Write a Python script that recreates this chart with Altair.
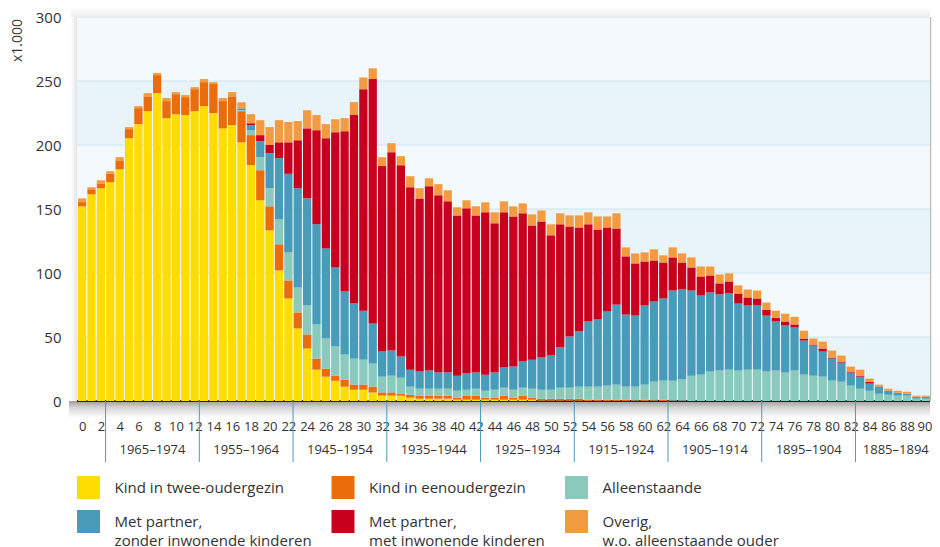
import altair as alt
import pandas as pd

# ---------------- data (values in thousands) ----------------
ages = list(range(91))

categories = [
    "Kind in twee-oudergezin",
    "Kind in eenoudergezin",
    "Alleenstaande",
    "Met partner, zonder inwonende kinderen",
    "Met partner, met inwonende kinderen",
    "Overig, w.o. alleenstaande ouder",
]
colors = ["#FFDD00", "#EA6C0B", "#89CABC", "#489CBA", "#C8001E", "#F39B41"]

kind_twee = [
    152, 161.5, 166.2, 171, 181, 205.3, 216.3, 226.4, 240.5, 221,
    224, 223.4, 226.4, 230.4, 224.9, 213, 215.5, 202.1, 184.2, 156.8,
    133.3, 102, 80.1, 56.7, 41, 24.5, 19, 15.9, 11.2, 8.8,
    8.8, 6.7, 4.2, 4.2, 4.2, 2.6, 1.8, 1.8, 1.8, 1.8,
    1, 1, 1, 1, 1, 1, 1, 1, 1, 0.4,
    0.3, 0.3, 0.2, 0.2, 0, 0, 0, 0, 0, 0,
    0, 0, 0, 0, 0, 0, 0, 0, 0, 0,
    0, 0, 0, 0, 0, 0, 0, 0, 0, 0,
    0, 0, 0, 0, 0, 0, 0, 0, 0, 0,
    0,
]
kind_eenouder = [
    3.4, 3.9, 3.8, 6.5, 7, 7.1, 12.5, 11.6, 14.1, 13.3,
    15.7, 14, 17.2, 18.7, 22.7, 21.3, 22.5, 24.3, 23.5, 23.5,
    18.8, 20.4, 14.1, 12.5, 11, 8.6, 6.3, 3.9, 5.5, 4,
    4, 4.5, 2.5, 2.5, 1.5, 2.3, 2.4, 2.4, 2.4, 2.4,
    1.6, 3.2, 3.2, 1.6, 1.6, 3.2, 1.6, 3.2, 1.6, 1.4,
    1.5, 1.5, 1.6, 1.6, 1, 1, 1, 1, 1, 0.5,
    1, 0.5, 1, 0.3, 0.3, 0, 0, 0, 0, 0,
    0, 0, 0, 0, 0, 0, 0, 0, 0, 0,
    0, 0, 0, 0, 0, 0, 0, 0, 0, 0,
    0,
]
alleenstaande = [
    0, 0, 0, 0, 0, 0, 0, 0, 0, 0,
    0, 0, 0, 0, 0, 0, 0, 0.8, 3.9, 10.2,
    14.1, 19.5, 21.9, 19.5, 22.6, 26.7, 23.5, 22.7, 19.6, 20.3,
    19.5, 18, 12.3, 13.1, 12.5, 6.3, 5.4, 5.4, 5.4, 5.4,
    5.4, 4.6, 5.4, 5.4, 6.2, 6.2, 6.2, 6.2, 7, 7,
    7, 8.6, 8.6, 9.4, 10.2, 10.2, 11, 11.8, 10.2, 10.7,
    11.8, 14.6, 14.9, 15.6, 16.4, 19.8, 20.6, 23, 23.8, 24.5,
    23.8, 24.5, 24.5, 23, 23.8, 22.2, 23.8, 20.6, 19.8, 19,
    15.9, 15.1, 12, 9.6, 8, 5.7, 4.9, 4.2, 4.2, 1.8,
    1.8,
]
partner_zonder = [
    0, 0, 0, 0, 0, 0, 0, 0, 0, 0,
    0, 0, 0, 0, 0, 0, 0, 1.5, 3.9, 12.5,
    27.5, 47.8, 61.4, 77.5, 83.7, 78.2, 70.4, 61.8, 49.2, 43,
    38.3, 31.4, 19.6, 19.6, 16.5, 13.3, 13.4, 14.2, 12.6, 12.6,
    11.8, 12.6, 12.6, 12.6, 13.4, 15.7, 18.1, 20.4, 22.7, 25.1,
    26.7, 31.3, 39.9, 43, 50.9, 52.4, 57.9, 62.5, 56.3, 55.5,
    61.8, 62.6, 64.2, 70.4, 70.4, 66.5, 61.8, 61.8, 59.5, 59.5,
    52.3, 50.1, 50.1, 43.7, 38.3, 36.8, 33.6, 26.6, 23.5, 19.6,
    17.2, 14.9, 10.2, 9.4, 5.6, 5.5, 3.1, 2.3, 1.5, 1.6,
    1.6,
]
partner_met = [
    0, 0, 0, 0, 0, 0, 0, 0, 0, 0,
    0, 0, 0, 0, 0, 0, 0, 0, 1.5, 4.7,
    6.3, 12.4, 24.6, 37.5, 54.7, 73.6, 86.1, 105.7, 125.3, 147.3,
    173, 190.9, 144.9, 155, 149.5, 142.5, 135.3, 144, 138.5, 133.8,
    125.2, 129.1, 122.8, 126.8, 116.6, 121.3, 117.3, 115.8, 104.9, 106.4,
    93.9, 96.3, 86.1, 81.4, 75.9, 70.4, 65.7, 59.5, 45.5, 40.8,
    34.4, 32.1, 28.1, 25.9, 21.1, 18, 14.9, 13.3, 8.6, 9.4,
    7.9, 6.3, 5.5, 4.7, 3, 3.1, 2.4, 1.6, 0.8, 2.4,
    0.8, 0.8, 0.8, 0.8, 1.5, 0.2, 0, 0, 0, 0,
    0,
]
overig = [
    2.9, 1.6, 2.4, 2, 2.5, 1.6, 1.6, 2.5, 1.6, 2.4,
    1.6, 1.6, 1.6, 2.4, 1.5, 2.4, 3.3, 4.7, 7.1, 11.7,
    14, 17.3, 15.9, 15, 14.2, 11.8, 11, 10.2, 10.2, 10.1,
    9.2, 8.4, 7, 7, 7.1, 8.6, 7.9, 6.2, 8.7, 8.6,
    6.3, 6.3, 7.1, 7.8, 8.6, 8.6, 7.9, 7.8, 8.6, 8.6,
    8.6, 8.6, 8.6, 9.4, 9.4, 10.2, 8.6, 11.8, 7, 7.8,
    7.1, 8.7, 5.6, 7.8, 7.1, 7.9, 7.8, 7, 7, 6.3,
    6.3, 6.2, 6.2, 5.5, 5.5, 6.1, 6, 6.1, 4.7, 5.4,
    5.5, 4.7, 3.9, 4.7, 2.4, 1.4, 1.6, 1.5, 1.5, 0.8,
    0.8,
]

x_labels = list(range(0, 91, 2))
y_ticks = [0, 50, 100, 150, 200, 250, 300]
grid_values = [50, 100, 150, 200, 250, 300]

cohort_bounds = [2.5, 12.5, 22.5, 32.5, 42.5, 52.5, 62.5, 72.5, 82.5]
cohort_labels = ["1965–1974", "1955–1964", "1945–1954", "1935–1944", "1925–1934",
                 "1915–1924", "1905–1914", "1895–1904", "1885–1894"]
cohort_centers = [7.5, 17.5, 27.5, 37.5, 47.5, 57.5, 67.5, 77.5, 86.8]

band_lo = [0, 50, 100, 150, 200, 250]
band_hi = [50, 100, 150, 200, 250, 300]
band_fill = ["#e9f4fa", "#f3f9fc", "#e9f4fa", "#f3f9fc", "#e9f4fa", "#f3f9fc"]

# ---------------- tables ----------------
series = [kind_twee, kind_eenouder, alleenstaande, partner_zonder, partner_met, overig]
rows = []
for k, (cat, vals) in enumerate(zip(categories, series)):
    for a, v in zip(ages, vals):
        rows.append({"age": a, "cat": cat, "k": k, "value": v})
df = pd.DataFrame(rows)

W, H = 853, 384
FONT = "Open Sans"
TXT = "#333333"

x_scale = alt.Scale(domain=[-0.55, 90.45], nice=False, zero=False)
y_scale = alt.Scale(domain=[0, 300], nice=False)

x_axis = alt.Axis(values=x_labels, title=None, ticks=False, domain=False, grid=False,
                  labelFontSize=13, labelColor=TXT, labelPadding=19,
                  labelFlush=4.7, labelFlushOffset=6.2, labelOverlap=False, format="d")
y_axis = alt.Axis(values=y_ticks, title="x1.000", grid=False, ticks=False, domain=False,
                  labelFontSize=15, labelColor=TXT, labelPadding=16, format="d",
                  titleFontSize=14, titleFontWeight="normal", titleColor=TXT,
                  titleAngle=270, titleX=-60, titleY=23, titleAlign="center",
                  titleBaseline="middle")

one = pd.DataFrame({"a": [0]})

bands = alt.Chart(pd.DataFrame({"lo": band_lo, "hi": band_hi, "fill": band_fill})).mark_rect().encode(
    x=alt.value(0), x2=alt.value(W),
    y=alt.Y("lo:Q", scale=y_scale, axis=y_axis), y2="hi:Q",
    fill=alt.Fill("fill:N", scale=None),
)

grid = alt.Chart(pd.DataFrame({"v": grid_values})).mark_rule(color="#cde4ef", strokeWidth=1).encode(
    y=alt.Y("v:Q", scale=y_scale, axis=y_axis)
)

top_shadow = alt.Chart(one).mark_rect(
    color=alt.LinearGradient(gradient="linear", x1=0, x2=0, y1=0, y2=1,
                             stops=[alt.GradientStop(color="#ffffff", offset=0),
                                    alt.GradientStop(color="#ececec", offset=1)])
).encode(x=alt.value(-6), x2=alt.value(W), y=alt.value(-10), y2=alt.value(0))

left_shadow = alt.Chart(one).mark_rect(
    color=alt.LinearGradient(gradient="linear", x1=0, x2=1, y1=0, y2=0,
                             stops=[alt.GradientStop(color="#ffffff", offset=0),
                                    alt.GradientStop(color="#e4e4e4", offset=1)])
).encode(x=alt.value(-6), x2=alt.value(0), y=alt.value(0), y2=alt.value(H))

bottom_shadow = alt.Chart(one).mark_rect(
    color=alt.LinearGradient(gradient="linear", x1=0, x2=0, y1=0, y2=1,
                             stops=[alt.GradientStop(color="#9f9b9b", offset=0),
                                    alt.GradientStop(color="#d8d6d6", offset=0.4),
                                    alt.GradientStop(color="#ffffff", offset=1)])
).encode(x=alt.value(-8), x2=alt.value(W), y=alt.value(H), y2=alt.value(H + 17))

right_edge = alt.Chart(one).mark_rule(color="#b9b9b9", strokeWidth=1.2).encode(
    x=alt.value(W + 0.6), y=alt.value(0), y2=alt.value(H)
)

baseline = alt.Chart(pd.DataFrame({"v": [0]})).mark_rule(color="#222222", strokeWidth=2).encode(
    y=alt.Y("v:Q", scale=y_scale, axis=y_axis)
)

label_expr = ("indexof(datum.label, ', ') > 0 ? "
              "[slice(datum.label, 0, indexof(datum.label, ', ') + 1), "
              "slice(datum.label, indexof(datum.label, ', ') + 2)] : datum.label")

bars = alt.Chart(df).transform_stack(
    stack="value", groupby=["age"], as_=["y0", "y1"],
    sort=[alt.SortField("k", order="ascending")],
).transform_calculate(
    xa="datum.age - 0.44", xb="datum.age + 0.44"
).mark_bar().encode(
    x=alt.X("xa:Q", scale=x_scale, axis=x_axis),
    x2="xb:Q",
    y=alt.Y("y0:Q", scale=y_scale, axis=y_axis),
    y2="y1:Q",
    color=alt.Color("cat:N", scale=alt.Scale(domain=categories, range=colors),
                    legend=alt.Legend(orient="none", legendX=0, legendY=459, columns=3,
                                      direction="horizontal",
                                      title=None, symbolType="square",
                                      symbolSize=529, symbolStrokeWidth=0,
                                      labelFontSize=15, labelColor=TXT, labelOffset=14.6,
                                      labelLimit=0, labelExpr=label_expr,
                                      labelBaseline="middle",
                                      columnPadding=19.5, rowPadding=11, padding=0)),
)

seps = alt.Chart(pd.DataFrame({"b": cohort_bounds})).mark_rule(color="#4a9bbb", strokeWidth=1).encode(
    x=alt.X("b:Q", scale=x_scale, axis=x_axis), y=alt.value(H), y2=alt.value(H + 61)
)

cohort_text = alt.Chart(pd.DataFrame({"c": cohort_centers, "label": cohort_labels})).mark_text(
    fontSize=13, color=TXT, baseline="middle", align="center"
).encode(x=alt.X("c:Q", scale=x_scale, axis=x_axis), y=alt.value(H + 49), text="label:N")

chart = alt.layer(
    bands, grid, top_shadow, left_shadow, bottom_shadow, baseline, bars, right_edge, seps, cohort_text
).properties(
    width=W, height=H, autosize="none",
    padding={"left": 69, "top": 9, "right": 2, "bottom": 146},
).configure(
    font=FONT, style={"guide-label": {"lineHeight": 19}}
).configure_view(stroke=None)

chart.save("out.html", embed_options={"renderer": "svg", "actions": False})
